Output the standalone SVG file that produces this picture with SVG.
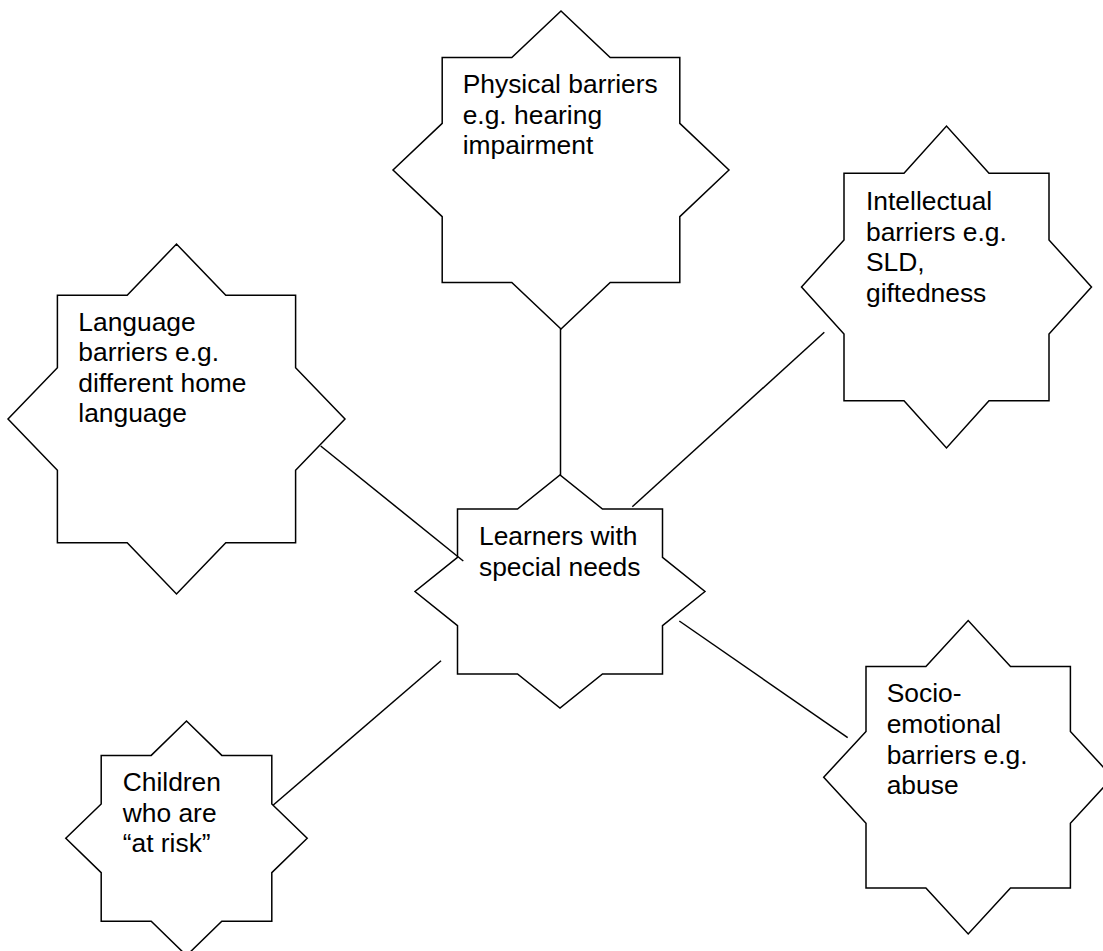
<svg xmlns="http://www.w3.org/2000/svg" width="1103" height="951" viewBox="0 0 1103 951">
  <style>
    .star { fill: #ffffff; stroke: #000000; stroke-width: 1.5; stroke-linejoin: miter; }
    .label { font-family: "Liberation Sans", Arial, sans-serif; font-size: 26.4px; fill: #000000; }
    .link { stroke: #000000; stroke-width: 1.5; fill: none; }
  </style>
  <rect width="1103" height="951" fill="#ffffff"/>

  <!-- eight-pointed star nodes -->
  <g id="node-physical">
    <polygon class="star" points="729,170 679.8,216.6 679.8,282.4 610.2,282.4 561,329 511.8,282.4 442.2,282.4 442.2,216.6 393,170 442.2,123.4 442.2,57.6 511.8,57.6 561,11 610.2,57.6 679.8,57.6 679.8,123.4"/>
    <text class="label" x="462.7" y="93">Physical barriers</text>
    <text class="label" x="462.7" y="123.5">e.g. hearing</text>
    <text class="label" x="462.7" y="154">impairment</text>
  </g>

  <g id="node-intellectual">
    <polygon class="star" points="1091.5,287 1049,334.1 1049,400.8 989,400.8 946.5,448 904,400.8 844,400.8 844,334.1 801.5,287 844,239.9 844,173.2 904,173.2 946.5,126 989,173.2 1049,173.2 1049,239.9"/>
    <text class="label" x="866" y="210">Intellectual</text>
    <text class="label" x="866" y="240.5">barriers e.g.</text>
    <text class="label" x="866" y="271">SLD,</text>
    <text class="label" x="866" y="301.5">giftedness</text>
  </g>

  <g id="node-language">
    <polygon class="star" points="345,419 295.6,470.2 295.6,542.7 225.8,542.7 176.5,594 127.2,542.7 57.4,542.7 57.4,470.2 8,419 57.4,367.8 57.4,295.3 127.2,295.3 176.5,244 225.8,295.3 295.6,295.3 295.6,367.8"/>
    <text class="label" x="78.3" y="330.7">Language</text>
    <text class="label" x="78.3" y="361">barriers e.g.</text>
    <text class="label" x="78.3" y="391.5">different home</text>
    <text class="label" x="78.3" y="422">language</text>
  </g>

  <g id="node-learners">
    <polygon class="star" points="705,591.5 662.5,625.6 662.5,673.9 602.5,673.9 560,708 517.5,673.9 457.5,673.9 457.5,625.6 415,591.5 457.5,557.4 457.5,509.1 517.5,509.1 560,475 602.5,509.1 662.5,509.1 662.5,557.4"/>
    <text class="label" x="479" y="545">Learners with</text>
    <text class="label" x="479" y="575.5">special needs</text>
  </g>

  <g id="node-children">
    <polygon class="star" points="307.2,838.3 271.8,872.6 271.8,921.2 221.8,921.2 186.5,955.6 151.2,921.2 101.2,921.2 101.2,872.6 65.8,838.3 101.2,804 101.2,755.4 151.2,755.4 186.5,721 221.8,755.4 271.8,755.4 271.8,804"/>
    <text class="label" x="122.7" y="791">Children</text>
    <text class="label" x="122.7" y="821.5">who are</text>
    <text class="label" x="122.7" y="852">“at risk”</text>
  </g>

  <g id="node-socio">
    <polygon class="star" points="1112.7,777.3 1070.4,823.2 1070.4,888.1 1010.5,888.1 968.2,934 925.9,888.1 866,888.1 866,823.2 823.7,777.3 866,731.4 866,666.5 925.9,666.5 968.2,620.6 1010.5,666.5 1070.4,666.5 1070.4,731.4"/>
    <text class="label" x="886.7" y="702.3">Socio-</text>
    <text class="label" x="886.7" y="733">emotional</text>
    <text class="label" x="886.7" y="763.5">barriers e.g.</text>
    <text class="label" x="886.7" y="794">abuse</text>
  </g>

  <!-- plain connectors from the centre node -->
  <g id="connectors">
    <line class="link" x1="560.5" y1="329" x2="560.5" y2="475"/>
    <line class="link" x1="824.3" y1="332.3" x2="632.3" y2="506.7"/>
    <line class="link" x1="320.7" y1="446" x2="463.3" y2="561"/>
    <line class="link" x1="679.3" y1="621" x2="847.7" y2="737.7"/>
    <line class="link" x1="441" y1="660.7" x2="273.3" y2="805"/>
  </g>
</svg>
